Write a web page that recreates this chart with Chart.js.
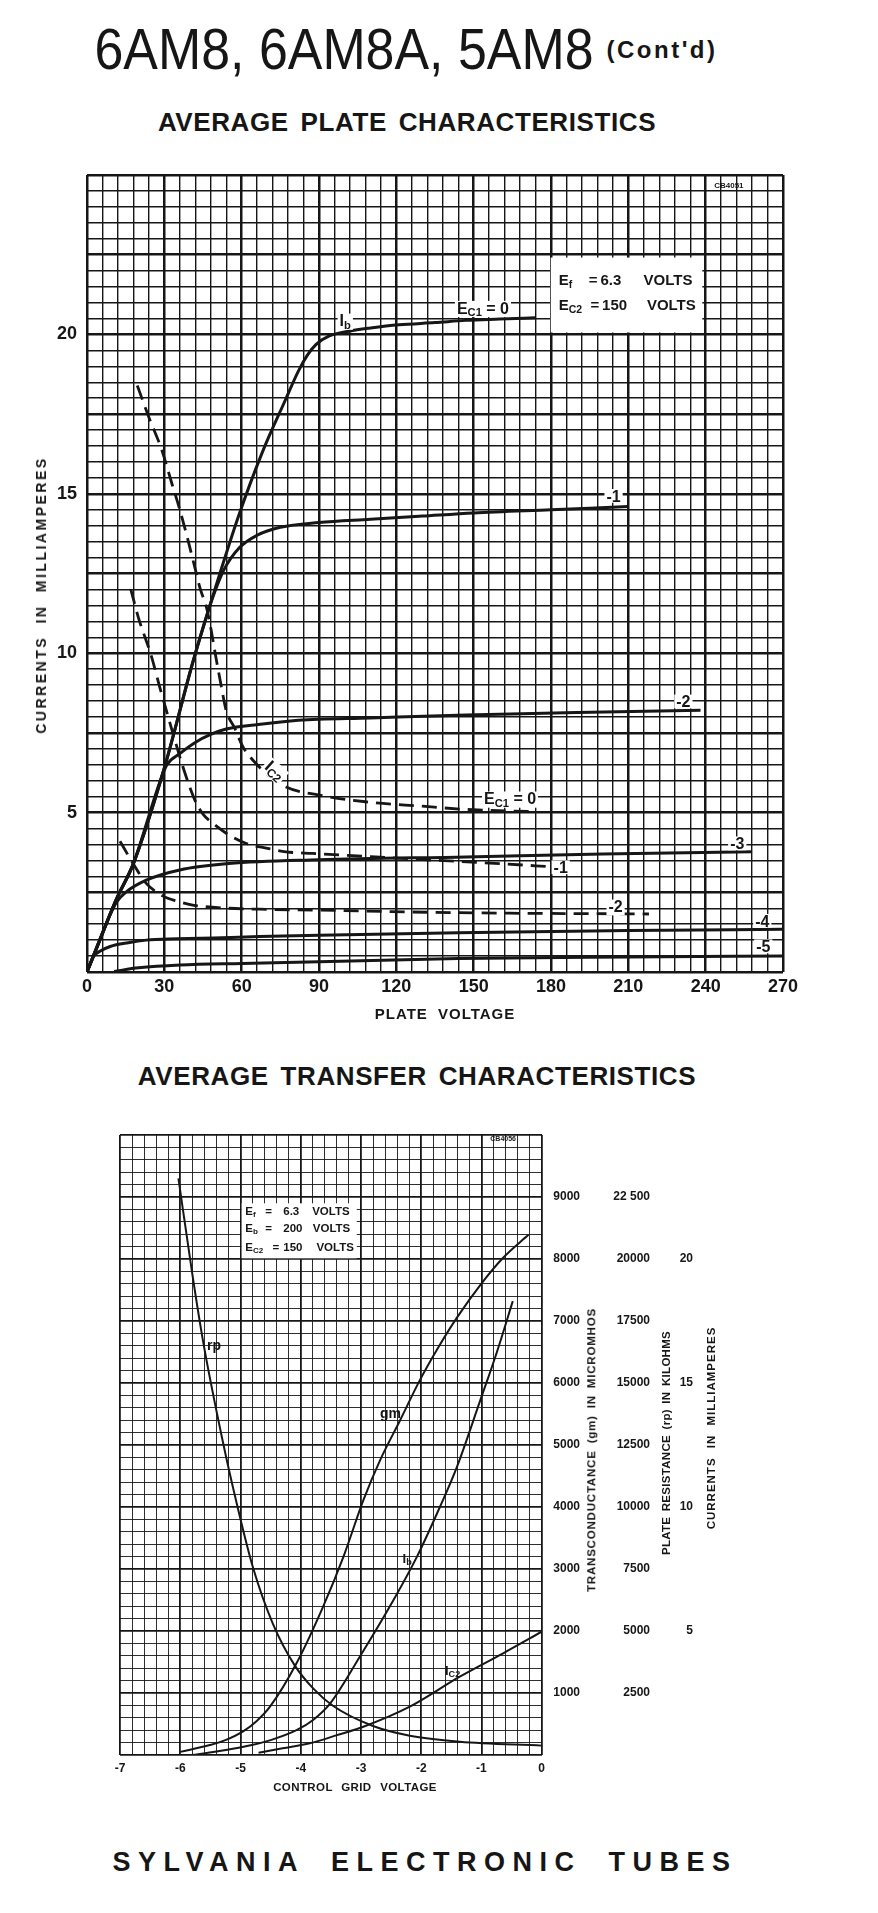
<!DOCTYPE html>
<html>
<head>
<meta charset="utf-8">
<title>6AM8 characteristics</title>
<script src="https://cdn.jsdelivr.net/npm/chart.js@4.4.1/dist/chart.umd.min.js"></script>
<style>
  html, body { margin: 0; padding: 0; background: #fff; }
  body { width: 878px; height: 1913px; position: relative; overflow: hidden;
         font-family: "Liberation Sans", Arial, sans-serif; color: #161616; }
  .c { position: absolute; white-space: nowrap; line-height: 1; font-weight: bold;
       transform: translate(-50%, -50%); }
  .r { transform: translate(-50%, -50%) rotate(-90deg); }
  .box { position: absolute; left: 0; width: 878px; }
</style>
</head>
<body>
<div class="c" style="left:344px;top:49px;font-size:58px;font-weight:normal;transform:translate(-50%,-50%) scaleX(0.895)">6AM8, 6AM8A, 5AM8</div>
<div class="c" style="left:662px;top:50px;font-size:24px;letter-spacing:2.5px">(Cont'd)</div>
<div class="c" style="left:407px;top:122px;font-size:26px;letter-spacing:0.6px;word-spacing:4px">AVERAGE PLATE CHARACTERISTICS</div>

<div class="box" style="top:150px;height:890px"><canvas id="plate"></canvas></div>
<div class="c r" style="left:41px;top:595px;font-size:14px;letter-spacing:2.5px;word-spacing:6px">CURRENTS IN MILLIAMPERES</div>
<div class="c" style="left:445px;top:1013px;font-size:15px;letter-spacing:1px;word-spacing:5px">PLATE VOLTAGE</div>

<div class="c" style="left:417px;top:1076px;font-size:26px;letter-spacing:0.6px;word-spacing:4px">AVERAGE TRANSFER CHARACTERISTICS</div>

<div class="box" style="top:1110px;height:700px"><canvas id="transfer"></canvas></div>
<div class="c r" style="left:592px;top:1450px;font-size:11.5px;letter-spacing:0.8px;word-spacing:3px">TRANSCONDUCTANCE (gm) IN MICROMHOS</div>
<div class="c r" style="left:667px;top:1443px;font-size:11.5px;letter-spacing:0.3px;word-spacing:2px">PLATE RESISTANCE (rp) IN KILOHMS</div>
<div class="c r" style="left:712px;top:1428px;font-size:11.5px;letter-spacing:1px;word-spacing:5px">CURRENTS IN MILLIAMPERES</div>
<div class="c" style="left:355px;top:1788px;font-size:11.5px;letter-spacing:0.4px;word-spacing:5px">CONTROL GRID VOLTAGE</div>

<div class="c" style="left:425px;top:1862px;font-size:27px;letter-spacing:7.5px;word-spacing:12px">SYLVANIA ELECTRONIC TUBES</div>

<script>
// ---- average plate characteristics, Ef 6.3 V, Ec2 150 V ----
// plate current Ib (mA) vs plate voltage (V), one pair per grid bias
const ib0V = [0, 5, 11.5, 18, 30, 41, 50, 59, 68, 77, 82, 85.5, 88.8, 94, 101.7, 110, 121, 135, 147, 160, 174];
const ib0I = [0, 1.0, 2.3, 3.4, 6.4, 9.7, 12.1, 14.35, 16.3, 17.95, 18.85, 19.35, 19.68, 19.95, 20.1, 20.2, 20.3, 20.37, 20.44, 20.48, 20.52];
const ib1V = [0, 11.5, 18, 30, 41, 45, 49, 53, 59, 66, 75, 90, 110, 130, 150, 180, 210];
const ib1I = [0, 2.3, 3.4, 6.4, 9.7, 10.8, 11.8, 12.6, 13.3, 13.7, 13.95, 14.1, 14.2, 14.3, 14.4, 14.5, 14.6];
const ib2V = [0, 11.5, 18, 28, 31, 36, 42, 48, 54, 65, 82, 110, 147, 190, 238];
const ib2I = [0, 2.3, 3.4, 5.9, 6.5, 6.85, 7.2, 7.45, 7.62, 7.75, 7.9, 7.97, 8.06, 8.14, 8.21];
const ib3V = [0, 5, 9, 11.5, 15, 23, 36, 55, 90, 147, 200, 258];
const ib3I = [0, 1.0, 1.8, 2.2, 2.5, 2.88, 3.2, 3.4, 3.52, 3.61, 3.7, 3.77];
const ib4V = [0, 2.5, 5, 9, 16, 23, 35, 49, 67, 90, 144, 210, 270];
const ib4I = [0, 0.48, 0.65, 0.8, 0.92, 1.0, 1.04, 1.07, 1.11, 1.15, 1.23, 1.3, 1.34];
const ib5V = [10.5, 20, 36, 60, 90, 144, 210, 270];
const ib5I = [0.02, 0.13, 0.22, 0.27, 0.32, 0.42, 0.47, 0.5];

// screen current Ic2 (mA), dashed
const ic2aV = [19.5, 24, 28.9, 33, 36, 39, 41.8, 44, 46.3, 48, 49.5, 52, 54, 57.3, 60.5, 64.3, 70, 77.2, 90, 108, 130, 147, 174];
const ic2aI = [18.4, 17.4, 16.4, 15.3, 14.5, 13.6, 12.7, 12.0, 11.45, 10.8, 10.1, 9.0, 8.2, 7.65, 7.06, 6.65, 6.2, 5.8, 5.55, 5.34, 5.2, 5.1, 5.03];
const ic2bV = [17, 20, 25, 28, 31.5, 34, 36, 39, 41.8, 45, 48.9, 55, 61.8, 70, 77.2, 87.5, 110, 134, 160, 180];
const ic2bI = [12.0, 11.1, 9.9, 9.0, 8.0, 7.3, 6.75, 6.0, 5.4, 4.95, 4.66, 4.3, 4.03, 3.88, 3.77, 3.72, 3.62, 3.51, 3.4, 3.3];
const ic2cV = [12.8, 17.9, 23, 29.5, 35, 41, 55, 67, 90, 144, 218];
const ic2cI = [4.1, 3.4, 2.78, 2.38, 2.22, 2.1, 2.0, 1.97, 1.94, 1.86, 1.82];

const plateXLabels = [0, 30, 60, 90, 120, 150, 180, 210, 240, 270];
const plateYLabels = [5, 10, 15, 20];

// ---- average transfer characteristics, Eb 200 V, Ec2 150 V ----
const rpGrid = [-6.03, -5.8, -5.62, -5.29, -5.06, -4.79, -4.46, -4.1, -3.79, -3.46, -2.8, -2.19, -1.36, 0];
const rpKohm = [23250, 19400, 16670, 12600, 10120, 7540, 5280, 3615, 2675, 1975, 1170, 780, 538, 378];
const gmGrid = [-6.0, -5.51, -5.25, -4.95, -4.73, -4.51, -4.07, -3.63, -3.29, -2.96, -2.68, -2.35, -2.02, -1.7, -1.41, -1.02, -0.64, -0.22];
const gmUmho = [50, 160, 240, 385, 550, 780, 1480, 2390, 3200, 4110, 4760, 5400, 6050, 6600, 7050, 7580, 8020, 8390];
const ibGrid = [-5.81, -5.4, -4.95, -4.5, -4.07, -3.8, -3.51, -3.02, -2.46, -2.07, -1.69, -1.41, -1.02, -0.75, -0.48];
const ibMa = [0, 0.14, 0.33, 0.6, 1.0, 1.4, 2.08, 3.96, 6.25, 8.0, 10.0, 11.6, 14.3, 16.2, 18.3];
const ic2Grid = [-4.7, -4.3, -3.85, -3.4, -2.96, -2.19, -1.36, -0.64, 0];
const ic2Ma = [0.09, 0.27, 0.47, 0.8, 1.14, 1.95, 3.16, 4.1, 4.97];

const gmLabels = [1000, 2000, 3000, 4000, 5000, 6000, 7000, 8000, 9000];
const rpValues = [2500, 5000, 7500, 10000, 12500, 15000, 17500, 20000, 22500];
const rpLabels = ['2500', '5000', '7500', '10000', '12500', '15000', '17500', '20000', '22 500'];
const maLabels = [5, 10, 15, 20];

const ink = '#161616';
const family = '"Liberation Sans", Arial, sans-serif';

const pts = (xs, ys) => xs.map((x, i) => ({ x, y: ys[i] }));
const near = (v, step) => Math.abs(v / step - Math.round(v / step)) < 1e-6;

// draws a label made of normal and subscript pieces
function drawRich(ctx, x, y, n) {
  const size = n.size;
  const font = s => `bold ${s}px ${family}`;
  let w = 0;
  let hasSub = false;
  const segs = n.parts.map(([t, sub]) => {
    const s = sub ? size * 0.7 : size;
    ctx.font = font(s);
    const seg = { t, s, dx: w, dy: sub ? size * 0.15 : 0 };
    if (sub) hasSub = true;
    w += ctx.measureText(t).width;
    return seg;
  });
  ctx.save();
  ctx.translate(x, y);
  if (n.rot) ctx.rotate(n.rot * Math.PI / 180);
  const ox = n.align === 'center' ? -w / 2 : 0;
  const oy = n.mid ? size * 0.36 : 0;
  if (n.bg) {
    const drop = (hasSub ? size * 0.15 : 0) + (n.drop || 1);
    ctx.fillStyle = '#fff';
    ctx.fillRect(ox - 2, oy - size * 0.8, w + 4, size * 0.8 + drop);
  }
  ctx.fillStyle = ink;
  ctx.textBaseline = 'alphabetic';
  segs.forEach(g => { ctx.font = font(g.s); ctx.fillText(g.t, ox + g.dx, oy + g.dy); });
  ctx.restore();
}

function notesPlugin(yId, boxes, items) {
  return {
    id: 'notes',
    afterDatasetsDraw(chart) {
      const ctx = chart.ctx;
      const xs = chart.scales.x, ys = chart.scales[yId];
      ctx.save();
      boxes.forEach(b => {
        const x1 = xs.getPixelForValue(b[0]), x2 = xs.getPixelForValue(b[1]);
        const y1 = ys.getPixelForValue(b[2]), y2 = ys.getPixelForValue(b[3]);
        ctx.fillStyle = '#fff';
        ctx.fillRect(Math.min(x1, x2), Math.min(y1, y2), Math.abs(x2 - x1), Math.abs(y2 - y1));
      });
      items.forEach(n => drawRich(ctx, xs.getPixelForValue(n.x), ys.getPixelForValue(n.y), n));
      ctx.restore();
    }
  };
}

const solid = (data, w) => ({ data, borderColor: ink, borderWidth: w, pointRadius: 0,
  fill: false, cubicInterpolationMode: 'monotone' });
const dashed = (data, w) => Object.assign(solid(data, w), { borderDash: [15, 8] });

// ---- plate chart ----
const plateNotes = [
  { x: 98, y: 20.25, size: 16, bg: true, parts: [['I'], ['b', 1]] },
  { x: 143.5, y: 20.65, size: 16, bg: true, parts: [['E'], ['C1', 1], [' = 0']] },
  { x: 201.5, y: 14.75, size: 16, bg: true, parts: [['-1']] },
  { x: 228.6, y: 8.3, size: 16, bg: true, parts: [['-2']] },
  { x: 249.5, y: 3.85, size: 16, bg: true, parts: [['-3']] },
  { x: 259.2, y: 1.42, size: 16, bg: true, parts: [['-4']] },
  { x: 259.6, y: 0.62, size: 16, bg: true, parts: [['-5']] },
  { x: 73, y: 6.33, size: 17, bg: true, align: 'center', mid: true, rot: 42, parts: [['I'], ['C2', 1]] },
  { x: 154, y: 5.26, size: 16, bg: true, parts: [['E'], ['C1', 1], [' = 0']] },
  { x: 181, y: 3.1, size: 16, bg: true, parts: [['-1']] },
  { x: 202.3, y: 1.87, size: 16, bg: true, drop: 3, parts: [['-2']] },
  { x: 249, y: 24.6, size: 8, align: 'center', parts: [['CB4051']] },
  { x: 183, y: 21.54, size: 15, parts: [['E'], ['f', 1]] },
  { x: 194.6, y: 21.54, size: 15, parts: [['=']] },
  { x: 199.2, y: 21.54, size: 15, parts: [['6.3']] },
  { x: 215.9, y: 21.54, size: 15, parts: [['VOLTS']] },
  { x: 183, y: 20.75, size: 15, parts: [['E'], ['C2', 1]] },
  { x: 195.3, y: 20.75, size: 15, parts: [['=']] },
  { x: 199.8, y: 20.75, size: 15, parts: [['150']] },
  { x: 217.2, y: 20.75, size: 15, parts: [['VOLTS']] }
];
const plateBoxes = [[179.9, 238.7, 22.41, 20.06]];

new Chart(document.getElementById('plate'), {
  type: 'line',
  data: {
    datasets: [
      solid(pts(ib0V, ib0I), 3),
      solid(pts(ib1V, ib1I), 3),
      solid(pts(ib2V, ib2I), 3),
      solid(pts(ib3V, ib3I), 3),
      solid(pts(ib4V, ib4I), 3),
      solid(pts(ib5V, ib5I), 3),
      dashed(pts(ic2aV, ic2aI), 2.8),
      dashed(pts(ic2bV, ic2bI), 2.8),
      dashed(pts(ic2cV, ic2cI), 2.8)
    ]
  },
  options: {
    responsive: true,
    maintainAspectRatio: false,
    animation: false,
    layout: { padding: { left: 0, right: 95, top: 25, bottom: 0 } },
    scales: {
      x: {
        type: 'linear', min: 0, max: 270,
        ticks: { stepSize: 6, autoSkip: false, maxRotation: 0, padding: 4, color: ink,
                 font: { family, size: 18, weight: 'bold' },
                 callback: v => plateXLabels.includes(v) ? String(v) : '' },
        grid: { drawTicks: false, color: ink, lineWidth: c => near(c.tick.value, 30) ? 2.5 : 1.4 },
        border: { display: false },
        afterFit: s => { s.height = 68; }
      },
      y: {
        type: 'linear', min: 0, max: 25,
        ticks: { stepSize: 0.5, autoSkip: false, padding: 10, color: ink,
                 font: { family, size: 18, weight: 'bold' },
                 callback: v => plateYLabels.includes(v) ? String(v) : '' },
        grid: { drawTicks: false, color: ink, lineWidth: c => near(c.tick.value, 2.5) ? 2.5 : 1.4 },
        border: { display: false },
        afterFit: s => { s.width = 87; }
      }
    },
    plugins: { legend: { display: false }, tooltip: { enabled: false } }
  },
  plugins: [notesPlugin('y', plateBoxes, plateNotes)]
});

// ---- transfer chart ----
// right-hand label columns are right-aligned to the outer edge of each axis box
const tickFont = { family, size: 12, weight: 'bold' };

const transferNotes = [
  { x: -5.556, y: 6532, size: 14, parts: [['rp']] },
  { x: -2.685, y: 5435, size: 14, parts: [['gm']] },
  { x: -2.31, y: 3097, size: 13, parts: [['I'], ['b', 1]] },
  { x: -1.605, y: 1290, size: 13, parts: [['I'], ['C2', 1]] },
  { x: -0.64, y: 9900, size: 7, align: 'center', parts: [['CB4056']] },
  { x: -4.92, y: 8710, size: 11.5, parts: [['E'], ['f', 1]] },
  { x: -4.59, y: 8710, size: 11.5, parts: [['=']] },
  { x: -4.29, y: 8710, size: 11.5, parts: [['6.3']] },
  { x: -3.81, y: 8710, size: 11.5, parts: [['VOLTS']] },
  { x: -4.92, y: 8435, size: 11.5, parts: [['E'], ['b', 1]] },
  { x: -4.59, y: 8435, size: 11.5, parts: [['=']] },
  { x: -4.29, y: 8435, size: 11.5, parts: [['200']] },
  { x: -3.80, y: 8435, size: 11.5, parts: [['VOLTS']] },
  { x: -4.92, y: 8129, size: 11.5, parts: [['E'], ['C2', 1]] },
  { x: -4.47, y: 8129, size: 11.5, parts: [['=']] },
  { x: -4.29, y: 8129, size: 11.5, parts: [['150']] },
  { x: -3.74, y: 8129, size: 11.5, parts: [['VOLTS']] }
];
const transferBoxes = [[-4.98, -3.07, 8898, 8011]];

new Chart(document.getElementById('transfer'), {
  type: 'line',
  data: {
    datasets: [
      Object.assign(solid(pts(rpGrid, rpKohm), 2), { yAxisID: 'yRp' }),
      Object.assign(solid(pts(gmGrid, gmUmho), 2), { yAxisID: 'yGm' }),
      Object.assign(solid(pts(ibGrid, ibMa), 2), { yAxisID: 'yMa' }),
      Object.assign(solid(pts(ic2Grid, ic2Ma), 2), { yAxisID: 'yMa' })
    ]
  },
  options: {
    responsive: true,
    maintainAspectRatio: false,
    animation: false,
    layout: { padding: { left: 120, right: 185, top: 25, bottom: 0 } },
    scales: {
      x: {
        type: 'linear', min: -7, max: 0,
        ticks: { stepSize: 0.2, autoSkip: false, maxRotation: 0, padding: 6, color: ink,
                 font: { family, size: 12, weight: 'bold' },
                 callback: v => near(v, 1) ? String(Math.round(v)) : '' },
        grid: { drawTicks: false, color: ink, lineWidth: c => near(c.tick.value, 1) ? 1.8 : 0.9 },
        border: { display: false },
        afterFit: s => { s.height = 55; }
      },
      yGm: {
        type: 'linear', position: 'right', weight: 0, min: 0, max: 10000,
        ticks: { stepSize: 200, autoSkip: false, crossAlign: 'far', padding: 4, color: ink, font: tickFont,
                 callback: v => gmLabels.includes(v) ? String(v) : '' },
        grid: { drawTicks: false, color: ink, lineWidth: c => near(c.tick.value, 1000) ? 1.8 : 0.9 },
        border: { display: false },
        afterFit: s => { s.width = 38.3; }
      },
      yRp: {
        type: 'linear', position: 'right', weight: 1, min: 0, max: 25000,
        ticks: { stepSize: 2500, autoSkip: false, crossAlign: 'far', padding: 4, color: ink, font: tickFont,
                 callback: v => { const i = rpValues.indexOf(v); return i >= 0 ? rpLabels[i] : ''; } },
        grid: { display: false, drawTicks: false },
        border: { display: false },
        afterFit: s => { s.width = 70; }
      },
      yMa: {
        type: 'linear', position: 'right', weight: 2, min: 0, max: 25,
        ticks: { stepSize: 5, autoSkip: false, crossAlign: 'far', padding: 4, color: ink, font: tickFont,
                 callback: v => maLabels.includes(v) ? String(v) : '' },
        grid: { display: false, drawTicks: false },
        border: { display: false },
        afterFit: s => { s.width = 43; }
      }
    },
    plugins: { legend: { display: false }, tooltip: { enabled: false } }
  },
  plugins: [notesPlugin('yGm', transferBoxes, transferNotes)]
});
</script>
</body>
</html>
